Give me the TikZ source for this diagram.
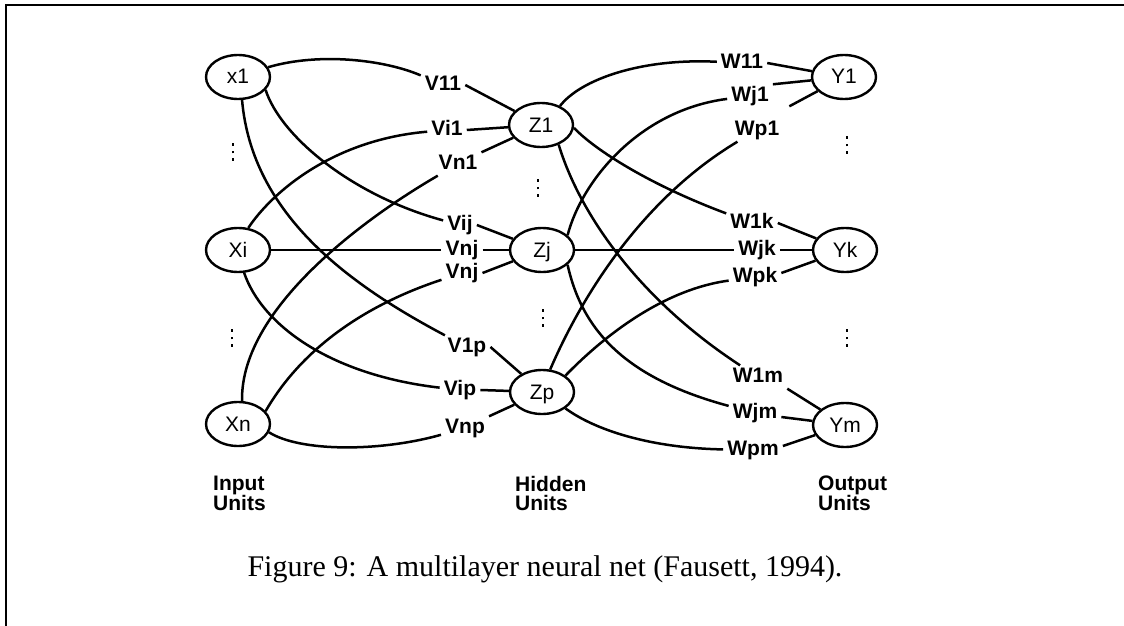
\documentclass[tikz,border=0pt]{standalone}
\usepackage{fontspec}
\setmainfont{Liberation Serif}
\newfontfamily\diagfont{Liberation Sans}
\usetikzlibrary{shapes.geometric}

% three small square dots stacked vertically
\newcommand\vdotmark{\vbox{\baselineskip=7.5pt\lineskiplimit=0pt\lineskip=0pt
  \hbox{\rule{2.8pt}{2.8pt}}\hbox{\rule{2.8pt}{2.8pt}}\hbox{\rule{2.8pt}{2.8pt}}}}

\begin{document}
\begin{tikzpicture}[x=1pt,y=-1pt,
  unit/.style={ellipse,draw,line width=2.4pt,minimum width=64pt,minimum height=44pt,
    inner sep=0pt,text height=14pt,text depth=0pt,font=\diagfont\fontsize{21}{24}\selectfont},
  weight/.style={inner xsep=4pt,inner ysep=3pt,text height=14pt,text depth=3pt,
    font=\diagfont\bfseries\fontsize{21}{24}\selectfont},
  link/.style={line width=2.5pt},
  straight/.style={line width=1.8pt},
  dotcol/.style={inner sep=0pt},
  layer/.style={align=left,anchor=north west,inner sep=0pt,
    font=\diagfont\bfseries\fontsize{21}{19.5}\selectfont,
    execute at begin node={\lineskiplimit=-20pt}},
]
\useasboundingbox (0,0) rectangle (1124,626);

% frame
\draw[line width=2pt] (6,626) -- (6,5) -- (1124,5);

% units
\node[unit] (x1) at (238,77) {x1};
\node[unit] (Xi) at (238,250) {Xi};
\node[unit] (Xn) at (238,424) {Xn};
\node[unit] (Z1) at (541,125) {Z1};
\node[unit] (Zj) at (542,250) {Zj};
\node[unit] (Zp) at (542,392) {Zp};
\node[unit] (Y1) at (844,77) {Y1};
\node[unit] (Yk) at (845,250) {Yk};
\node[unit] (Ym) at (845,425) {Ym};

% elision dots between units
\node[dotcol] (dx1) at (233,152) {\vdotmark};
\node[dotcol] (dx2) at (232,338) {\vdotmark};
\node[dotcol] (dz1) at (538,188) {\vdotmark};
\node[dotcol] (dz2) at (543,318) {\vdotmark};
\node[dotcol] (dy1) at (847,145) {\vdotmark};
\node[dotcol] (dy2) at (847,338) {\vdotmark};

% weight labels, input to hidden
\node[weight] (V11) at (443,85) {V11};
\node[weight] (Vi1) at (447,130) {Vi1};
\node[weight] (Vn1) at (458,164) {Vn1};
\node[weight] (Vij) at (460,225) {Vij};
\node[weight] (Vnj1) at (462,250) {Vnj};
\node[weight] (Vnj2) at (462,273) {Vnj};
\node[weight] (V1p) at (467,347) {V1p};
\node[weight] (Vip) at (460,390) {Vip};
\node[weight] (Vnp) at (465,428) {Vnp};

% weight labels, hidden to output
\node[weight] (W11) at (742,63) {W11};
\node[weight] (Wj1) at (750,96) {Wj1};
\node[weight] (Wp1) at (757,130) {Wp1};
\node[weight] (W1k) at (752,223) {W1k};
\node[weight] (Wjk) at (757,250) {Wjk};
\node[weight] (Wpk) at (755,277) {Wpk};
\node[weight] (W1m) at (758,377) {W1m};
\node[weight] (Wjm) at (755,413) {Wjm};
\node[weight] (Wpm) at (753,450) {Wpm};

% input -> hidden connections
\draw[link] (x1.18) .. controls (320,52) and (385,60) .. (V11);
\draw[link] (V11.east) -- (Z1);
\draw[link] (x1.-25) .. controls (280,135) and (350,195) .. (Vij);
\draw[link] (Vij.east) -- (Zj);
\draw[link] (x1.-80) .. controls (252,215) and (350,285) .. (V1p);
\draw[link] (V1p.east) -- (Zp);
\draw[link] (Xi.65) .. controls (270,195) and (330,140) .. (Vi1);
\draw[link] (Vi1.east) -- (Z1);
\draw[straight] (Xi) -- (Vnj1);
\draw[straight] (Vnj1) -- (Zj);
\draw[link] (Xi.-75) .. controls (262,325) and (330,375) .. (Vip);
\draw[link] (Vip.east) -- (Zp);
\draw[link] (Xn.80) .. controls (240,305) and (375,212) .. (Vn1);
\draw[link] (Vn1.north east) -- (Z1);
\draw[link] (Xn.25) .. controls (295,360) and (350,310) .. (Vnj2);
\draw[link] (Vnj2.east) -- (Zj);
\draw[link] (Xn.-15) .. controls (300,452) and (380,452) .. (Vnp);
\draw[link] (Vnp.north east) -- (Zp);

% hidden -> output connections
\draw[link] (Z1.45) .. controls (580,80) and (640,58) .. (W11);
\draw[link] (W11.east) -- (Y1);
\draw[link] (Z1.-5) .. controls (595,150) and (650,185) .. (W1k);
\draw[link] (W1k.east) -- (Yk);
\draw[link] (Z1.-48) .. controls (580,215) and (640,300) .. (W1m);
\draw[link] (W1m.south east) -- (Ym);
\draw[link] (Zj.30) .. controls (582,180) and (640,110) .. (Wj1);
\draw[link] (Wj1.north east) -- (Y1);
\draw[straight] (Zj) -- (Wjk);
\draw[straight] (Wjk) -- (Yk);
\draw[link] (Zj.-30) .. controls (582,330) and (625,378) .. (Wjm);
\draw[link] ([yshift=-4pt]Wjm.east) -- (Ym);
\draw[link] (Zp.70) .. controls (580,300) and (640,200) .. (Wp1);
\draw[link] ([shift={(6pt,12pt)}]Wp1.north east) -- (Y1);
\draw[link] (Zp.35) .. controls (600,340) and (660,290) .. (Wpk);
\draw[link] ([yshift=4pt]Wpk.east) -- (Yk);
\draw[link] (Zp.-35) .. controls (595,430) and (650,448) .. (Wpm);
\draw[link] ([yshift=4pt]Wpm.east) -- (Ym);

% layer names
\node[layer] (inlab) at (213,476) {Input\\Units};
\node[layer] (hidlab) at (515,476) {Hidden\\Units};
\node[layer] (outlab) at (818,476) {Output\\Units};

% caption
\node[anchor=base,inner sep=0pt,font=\fontsize{30}{36}\selectfont] (caption) at (545,576)
  {Figure 9: A multilayer neural net (Fausett, 1994).};
\end{tikzpicture}
\end{document}
